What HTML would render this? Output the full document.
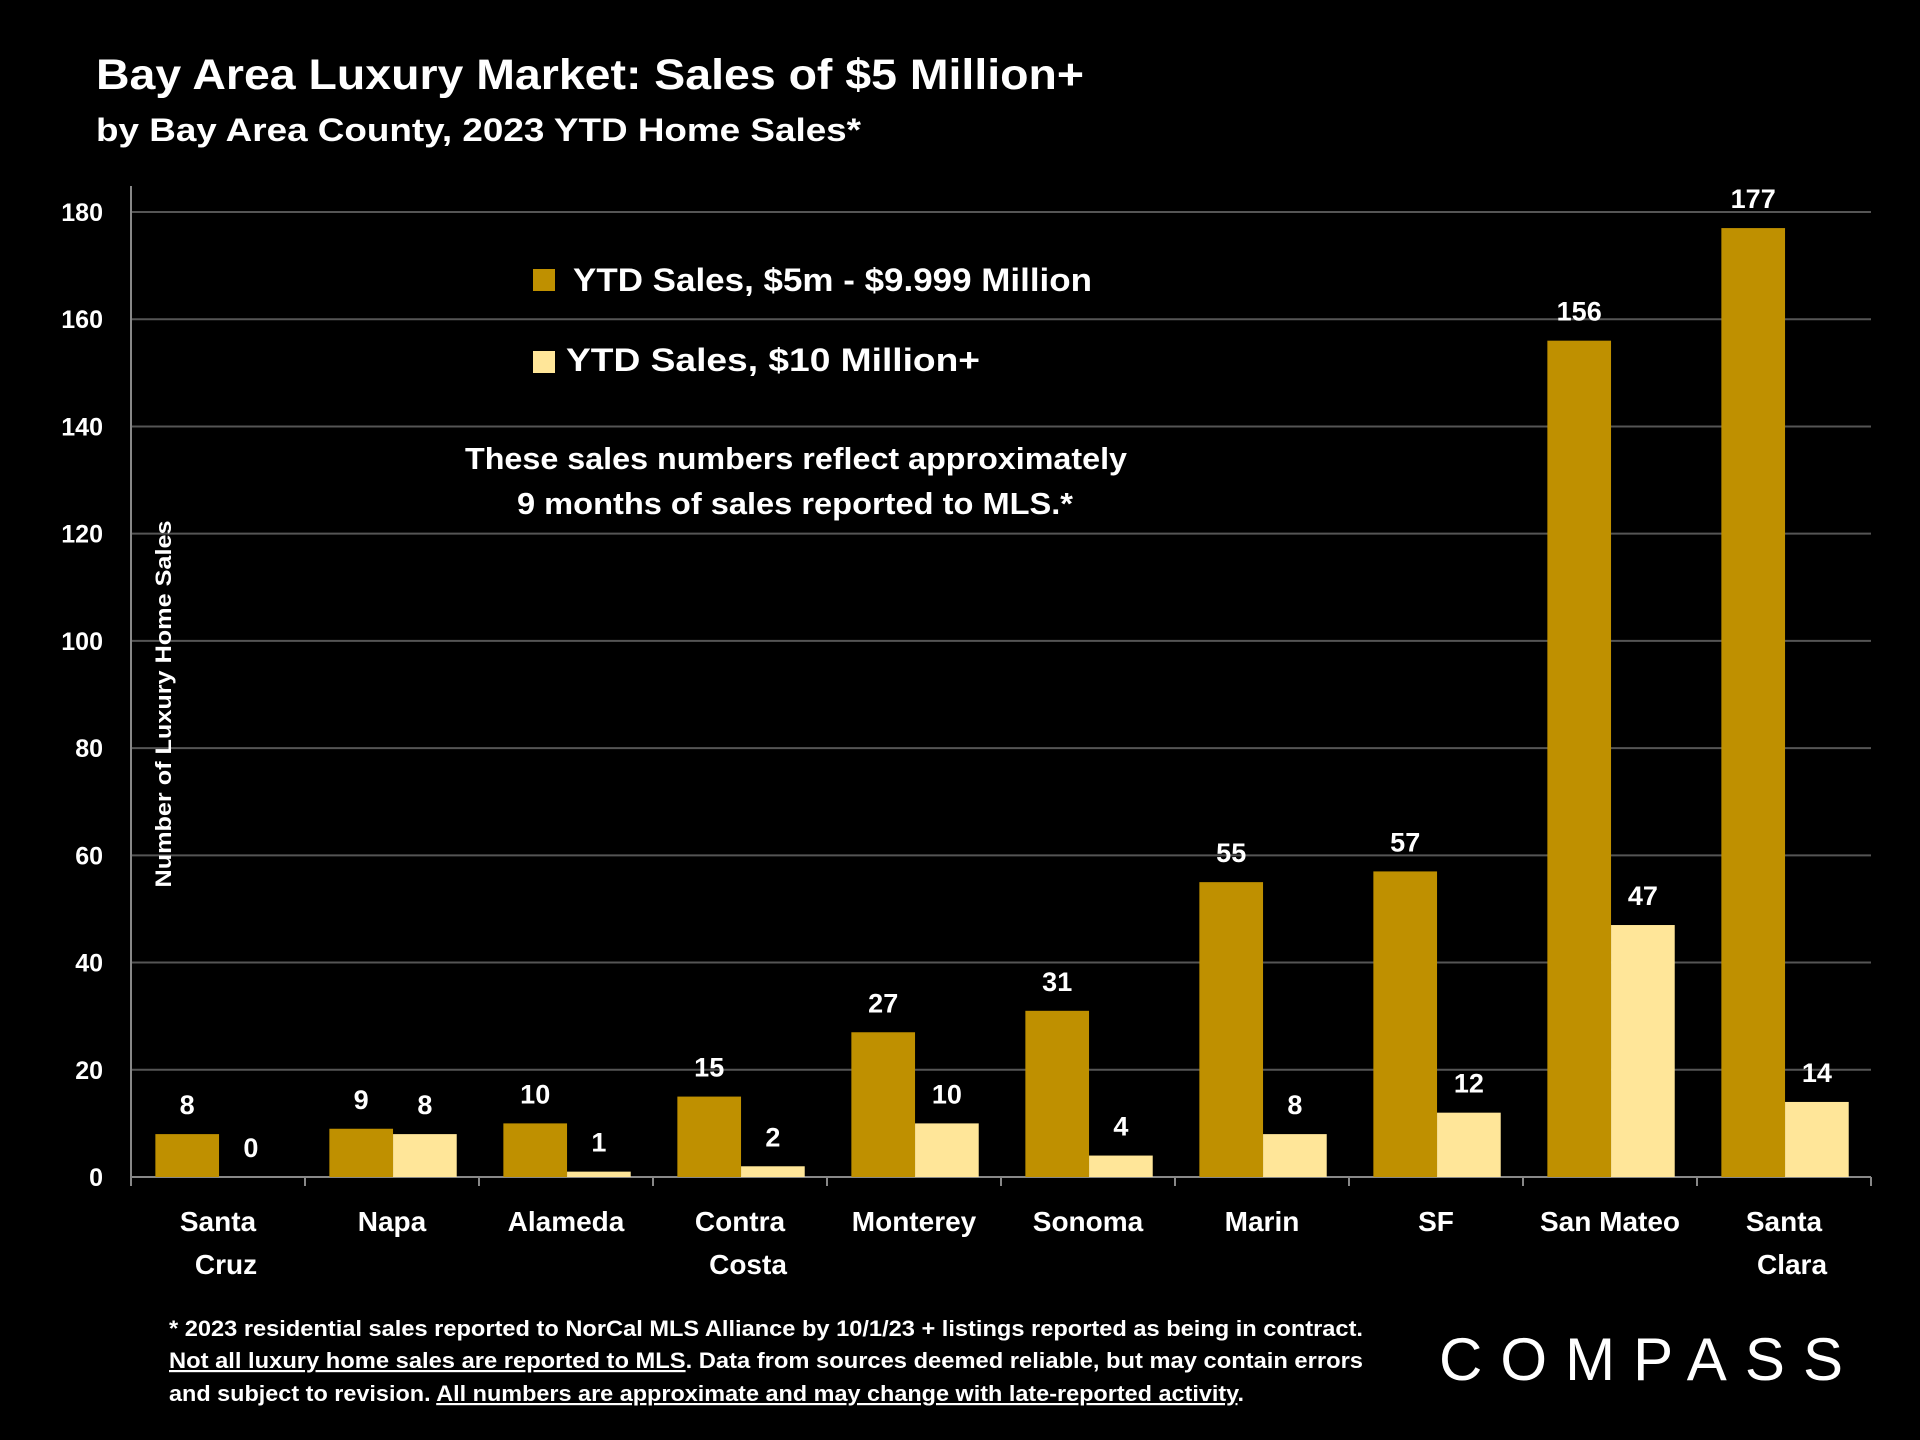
<!DOCTYPE html>
<html><head><meta charset="utf-8"><style>
html,body{margin:0;padding:0;background:#000;}
svg{display:block;font-family:"Liberation Sans",sans-serif;}
</style></head><body>
<svg id="chart" width="1920" height="1440" viewBox="0 0 1920 1440">
<rect width="1920" height="1440" fill="#000"/>
<text x="96" y="89" fill="#fff" font-size="43" font-weight="bold" textLength="988" lengthAdjust="spacingAndGlyphs">Bay Area Luxury Market: Sales of $5 Million+</text>
<text x="96" y="141" fill="#fff" font-size="32" font-weight="bold" textLength="765" lengthAdjust="spacingAndGlyphs">by Bay Area County, 2023 YTD Home Sales*</text>
<g id="grid"></g><g id="bars"></g><g id="labels"></g>
<text transform="translate(171,704) rotate(-90)" text-anchor="middle" fill="#fff" font-size="22" font-weight="bold" textLength="367" lengthAdjust="spacingAndGlyphs">Number of Luxury Home Sales</text>
<g>
<rect x="533" y="269" width="22" height="22" fill="#BF9000"/>
<text x="573" y="291" fill="#fff" font-size="32" font-weight="bold" textLength="519" lengthAdjust="spacingAndGlyphs">YTD Sales, $5m - $9.999 Million</text>
<rect x="533" y="351" width="22" height="22" fill="#FFE699"/>
<text x="566" y="371" fill="#fff" font-size="32" font-weight="bold" textLength="414" lengthAdjust="spacingAndGlyphs">YTD Sales, $10 Million+</text>
</g>
<g fill="#fff" font-size="31" font-weight="bold">
<text x="465" y="469" textLength="662" lengthAdjust="spacingAndGlyphs">These sales numbers reflect approximately</text>
<text x="517" y="514" textLength="556" lengthAdjust="spacingAndGlyphs">9 months of sales reported to MLS.*</text>
</g>
<g fill="#fff" font-size="22" font-weight="bold">
<text x="169" y="1336" textLength="1194" lengthAdjust="spacingAndGlyphs">* 2023 residential sales reported to NorCal MLS Alliance by 10/1/23 + listings reported as being in contract.</text>
<text x="169" y="1368" textLength="1194" lengthAdjust="spacingAndGlyphs"><tspan text-decoration="underline">Not all luxury home sales are reported to MLS</tspan>. Data from sources deemed reliable, but may contain errors</text>
<text x="169" y="1401" textLength="1075" lengthAdjust="spacingAndGlyphs">and subject to revision. <tspan text-decoration="underline">All numbers are approximate and may change with late-reported activity</tspan>.</text>
</g>
<text x="1439" y="1380" fill="#fff" font-size="60" textLength="404" lengthAdjust="spacing">COMPASS</text>
</svg>
<script>
const categories=[["Santa","Cruz"],["Napa"],["Alameda"],["Contra","Costa"],["Monterey"],["Sonoma"],["Marin"],["SF"],["San Mateo"],["Santa","Clara"]];
const sales5m=[8,9,10,15,27,31,55,57,156,177];
const sales10m=[0,8,1,2,10,4,8,12,47,14];
const yTicks=[0,20,40,60,80,100,120,140,160,180];
const NS="http://www.w3.org/2000/svg";
const X0=131,X1=1871,Y0=1177,Y180=212;
const bw=(X1-X0)/categories.length;
const y=v=>Y0-(Y0-Y180)*v/180;
function mk(tag,attrs,parent){const e=document.createElementNS(NS,tag);for(const k in attrs)e.setAttribute(k,attrs[k]);parent.appendChild(e);return e;}
const grid=document.getElementById('grid'),bars=document.getElementById('bars'),labels=document.getElementById('labels');
yTicks.forEach(t=>{
 const l=mk('line',{x1:X0,x2:X1,y1:y(t),y2:y(t),stroke:t===0?'#888':'#555','stroke-width':2},grid);
 
 
 const tx=mk('text',{x:103,y:y(t)+9,'text-anchor':'end',fill:'#fff','font-size':25,'font-weight':'bold'},labels);
 tx.textContent=t;
 
 
});
const ax=mk('line',{x1:X0,x2:X0,y1:186,y2:Y0,stroke:'#888','stroke-width':2},grid);


for(let i=0;i<=categories.length;i++){
 const tk=mk('line',{x1:X0+i*bw,x2:X0+i*bw,y1:Y0,y2:Y0+9,stroke:'#888','stroke-width':2},grid);
 
 
}
const barW=bw*0.366, off=bw*0.14;
categories.forEach((c,i)=>{
 const cx=X0+i*bw;
 [[sales5m[i],'#BF9000',cx+off,'5m'],[sales10m[i],'#FFE699',cx+off+barW,'10m']].forEach(([v,col,x,s])=>{
  const r=mk('rect',{x:x,y:y(v),width:barW,height:Y0-y(v),fill:col},bars);
  
  
  const t=mk('text',{x:x+barW/2,y:y(v)-20,'text-anchor':'middle',fill:'#fff','font-size':27,'font-weight':'bold'},labels);
  t.textContent=v;
  
  
 });
 c.forEach((line,j)=>{
  const t=mk('text',{x:cx+bw/2+(j===1?8:0),y:1231+j*43,'text-anchor':'middle',fill:'#fff','font-size':28,'font-weight':'bold'},labels);
  t.textContent=line;
  
  
 });
});
</script>
</body></html>
